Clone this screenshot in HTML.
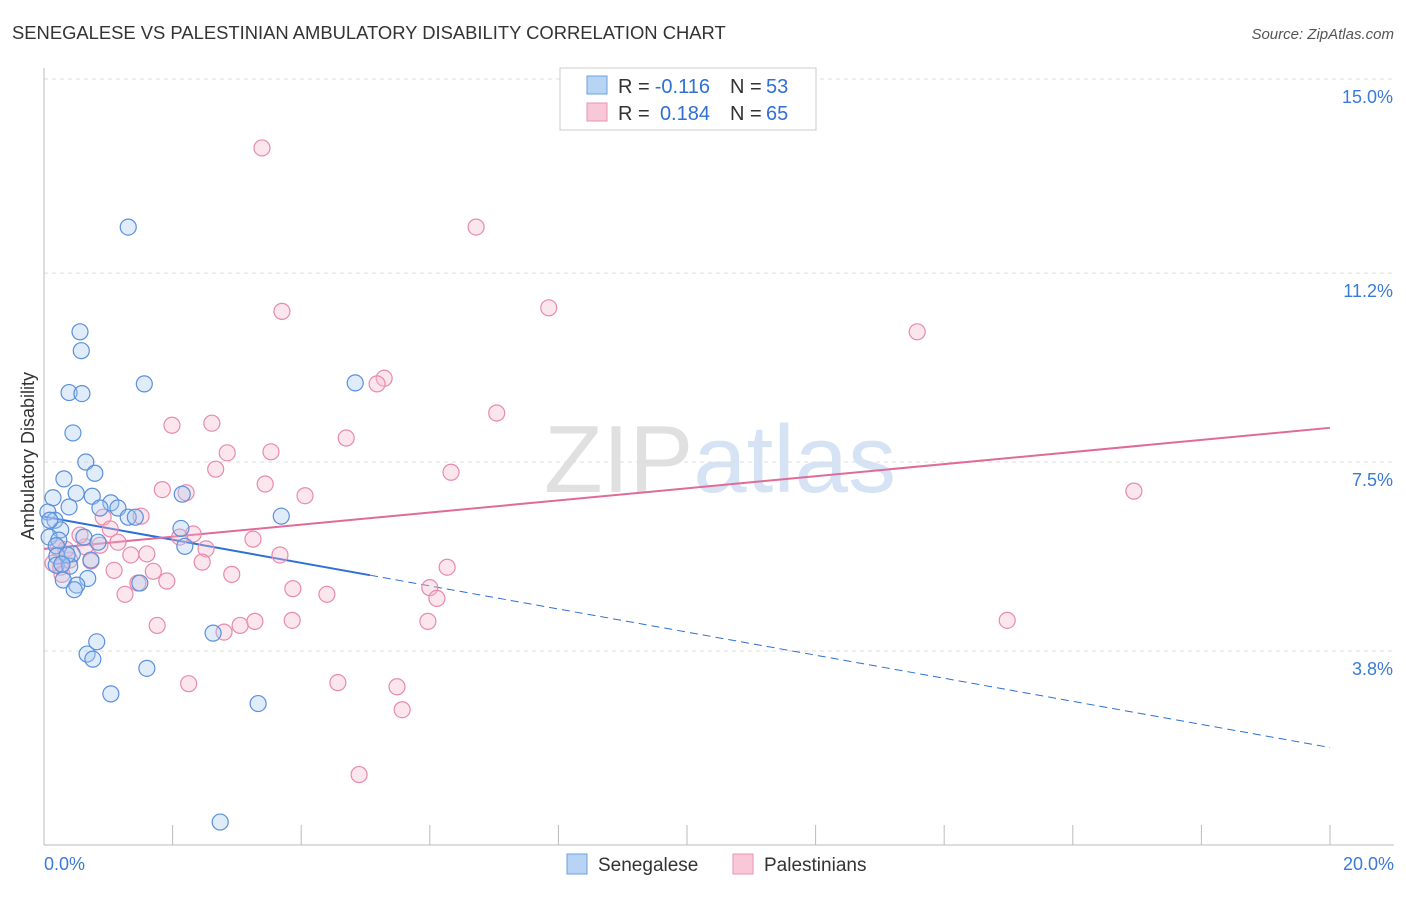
<!DOCTYPE html>
<html><head><meta charset="utf-8"><style>
body{margin:0;background:#fff;font-family:"Liberation Sans",sans-serif;}
svg text{font-family:"Liberation Sans",sans-serif;}
</style></head><body>
<svg id="chart" width="1406" height="892" xmlns="http://www.w3.org/2000/svg">
<text x="12" y="39" font-size="18.4" fill="#333">SENEGALESE VS PALESTINIAN AMBULATORY DISABILITY CORRELATION CHART</text>
<text x="1394" y="39" font-size="15" fill="#555" text-anchor="end" font-style="italic">Source: ZipAtlas.com</text>
<text x="720" y="492" font-size="96" fill="#e0e0e0" text-anchor="middle" font-family="Liberation Serif">ZIP<tspan fill="#d5e3f5" font-family="Liberation Sans">atlas</tspan></text>
<text transform="translate(34,456) rotate(-90)" font-size="18" fill="#333" text-anchor="middle">Ambulatory Disability</text>
<g id="grid"></g><g id="axes"></g><g id="trend"></g><g id="pts"></g>
<g>
<rect x="560" y="68" width="256" height="62" fill="#fff" stroke="#ccc"/>
<rect x="587" y="76" width="20" height="18" fill="#b8d4f5" stroke="#6a9fe0"/>
<rect x="587" y="103" width="20" height="18" fill="#f9c8d8" stroke="#e893b0"/>
<text x="618" y="93" font-size="20" fill="#333">R =</text>
<text x="710" y="93" font-size="20" fill="#2f6fd6" text-anchor="end">-0.116</text>
<text x="730" y="93" font-size="20" fill="#333">N =</text>
<text x="766" y="93" font-size="20" fill="#2f6fd6">53</text>
<text x="618" y="120" font-size="20" fill="#333">R =</text>
<text x="710" y="120" font-size="20" fill="#2f6fd6" text-anchor="end">0.184</text>
<text x="730" y="120" font-size="20" fill="#333">N =</text>
<text x="766" y="120" font-size="20" fill="#2f6fd6">65</text>
</g>
<g>
<rect x="567" y="854" width="20" height="20" fill="#b8d4f5" stroke="#6a9fe0"/>
<text x="598" y="871" font-size="19" fill="#333">Senegalese</text>
<rect x="733" y="854" width="20" height="20" fill="#f9c8d8" stroke="#e893b0"/>
<text x="764" y="871" font-size="19" fill="#333">Palestinians</text>
</g>
</svg>
<script>
const yTicks=[15.0,11.2,7.5,3.8];
const yTickLabels=["15.0%","11.2%","7.5%","3.8%"];
const xTickLabels=["0.0%","20.0%"];
const blueX=[1.31,0.56,0.58,0.39,0.59,1.56,4.84,0.45,0.65,0.79,0.31,0.14,0.50,0.75,1.04,0.87,1.15,0.39,1.31,1.42,2.15,2.13,0.06,0.17,0.26,0.08,0.23,0.19,0.62,0.84,2.19,3.69,0.20,0.44,0.73,0.19,0.40,0.68,0.30,0.51,0.47,1.49,0.82,0.67,0.76,1.60,1.04,2.63,3.33,2.74,0.09,0.36,0.28];
const blueY=[12.10,10.05,9.68,8.86,8.84,9.03,9.05,8.07,7.50,7.28,7.17,6.80,6.89,6.83,6.70,6.60,6.60,6.62,6.42,6.42,6.87,6.20,6.52,6.36,6.17,6.03,5.97,5.86,6.03,5.93,5.85,6.44,5.66,5.70,5.58,5.48,5.46,5.22,5.19,5.09,5.00,5.13,3.98,3.74,3.64,3.46,2.96,4.15,2.77,0.45,6.36,5.68,5.50];
const pinkX=[3.39,6.72,3.70,7.85,13.58,5.29,5.18,1.99,2.61,7.04,4.70,2.85,3.53,6.33,2.67,3.44,1.84,2.21,4.06,16.95,1.51,0.92,1.03,2.32,2.11,3.25,1.15,0.64,0.22,1.60,1.35,2.52,3.67,2.46,0.73,0.40,0.14,0.26,1.09,1.70,2.92,6.27,1.46,1.91,3.87,6.00,1.26,4.40,6.11,1.76,3.05,3.28,3.86,5.97,2.80,14.98,2.25,4.57,5.49,5.57,4.90,0.28,0.87,0.56,0.34];
const pinkY=[13.65,12.10,10.45,10.52,10.05,9.14,9.03,8.22,8.26,8.46,7.97,7.68,7.70,7.30,7.36,7.07,6.96,6.90,6.84,6.93,6.44,6.42,6.19,6.09,6.03,5.99,5.93,5.84,5.82,5.70,5.68,5.80,5.68,5.54,5.56,5.58,5.52,5.44,5.38,5.36,5.30,5.44,5.13,5.17,5.02,5.04,4.91,4.91,4.83,4.30,4.30,4.38,4.40,4.38,4.17,4.40,3.16,3.18,3.10,2.65,1.38,5.30,5.87,6.07,5.79];
const blueTrend=[6.43,1.91];
const pinkTrend=[5.80,8.17];
const X=v=>44+v*64.3, Y=v=>79+(15-v)*51.07;
const NS="http://www.w3.org/2000/svg";
function mk(tag,attrs,parent){const e=document.createElementNS(NS,tag);for(const k in attrs)e.setAttribute(k,attrs[k]);document.getElementById(parent).appendChild(e);return e;}
yTicks.forEach((t,i)=>{
 const g=mk('line',{x1:44,x2:1394,y1:Y(t),y2:Y(t),stroke:'#ddd','stroke-dasharray':'4,4'},'grid');
 
 
 const l=mk('text',{x:1393,y:Y(t)+24,'font-size':18,fill:'#3a7ad8','text-anchor':'end'},'grid');
 l.textContent=yTickLabels[i];
 
 
});
const a1=mk('line',{x1:44,x2:44,y1:68,y2:845,stroke:'#bbb'},'axes');


const a2=mk('line',{x1:44,x2:1394,y1:845,y2:845,stroke:'#bbb'},'axes');


for(let i=0;i<=10;i++){
 const t=mk('line',{x1:X(i*2),x2:X(i*2),y1:825,y2:845,stroke:'#bbb'},'axes');
 
 
}
[[0,'start',44],[20,'end',1394]].forEach((d,i)=>{
 const l=mk('text',{x:d[2],y:870,'font-size':18,fill:'#3a7ad8','text-anchor':d[1]},'axes');
 l.textContent=xTickLabels[i];
 
 
});
function pts(xs,ys,fill,stroke,name){xs.forEach((x,i)=>{
 const c=mk('circle',{cx:X(x),cy:Y(ys[i]),r:8,fill:fill,'fill-opacity':0.35,stroke:stroke,'stroke-width':1.2},'pts');
 
 
});}
pts(pinkX,pinkY,'#f7b6cb','#e88aac','palestinian-point');
pts(blueX,blueY,'#a9c9f2','#5a90dc','senegalese-point');
const bAt=v=>blueTrend[0]+(blueTrend[1]-blueTrend[0])*v/20;
const tb1=mk('line',{x1:X(0),y1:Y(bAt(0)),x2:X(5.07),y2:Y(bAt(5.07)),stroke:'#2f6fd6','stroke-width':2},'trend');


const tb2=mk('line',{x1:X(5.07),y1:Y(bAt(5.07)),x2:X(20),y2:Y(bAt(20)),stroke:'#2f6fd6','stroke-width':1,'stroke-dasharray':'8,5'},'trend');


const tp=mk('line',{x1:X(0),y1:Y(pinkTrend[0]),x2:X(20),y2:Y(pinkTrend[1]),stroke:'#e06b98','stroke-width':2},'trend');


</script>
</body></html>
